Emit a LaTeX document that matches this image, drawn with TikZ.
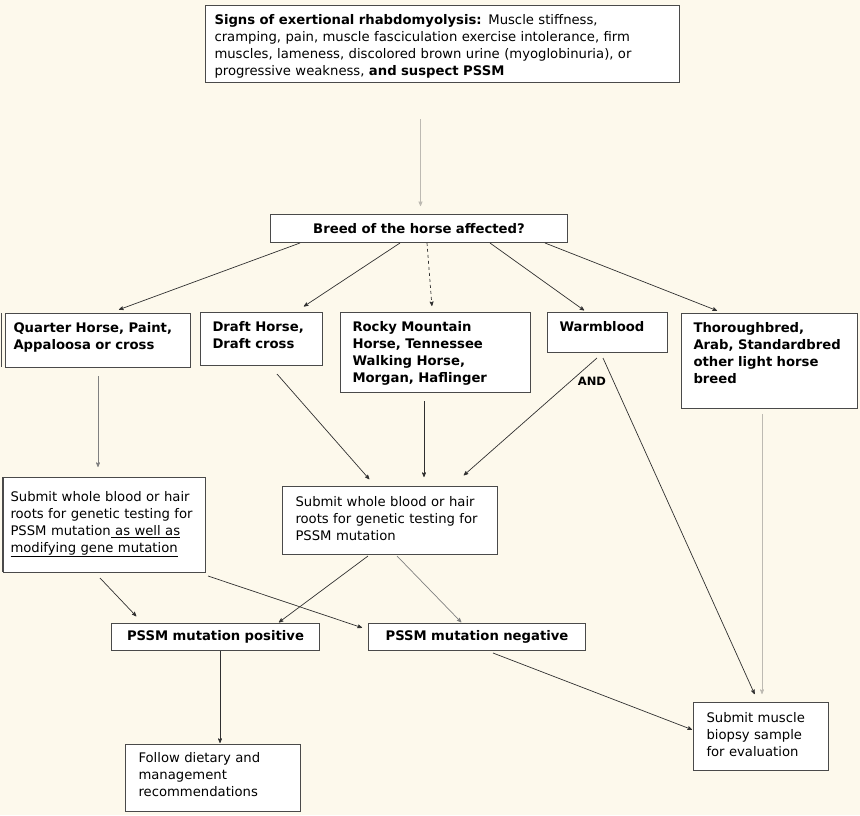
\documentclass[tikz,border=0pt]{standalone}
\usepackage{fontspec}
\setmainfont{DejaVu Sans}
\usepackage{tikz}
\usetikzlibrary{arrows}

\definecolor{paper}{HTML}{FDF9EC}
\definecolor{frame}{HTML}{4A4A4A}
\definecolor{wire}{HTML}{303030}
\definecolor{midwire}{HTML}{808080}
\definecolor{faint}{HTML}{BDBAB2}

\begin{document}
\begin{tikzpicture}[x=1pt,y=-1pt,->,>=stealth',shorten >=1pt,line width=0.7pt,
			main box/.style={draw=frame,fill=white,line width=1pt,anchor=north west,
				align=left,font=\fontsize{13.2}{17}\selectfont,
				inner xsep=12pt,inner ysep=5pt,text height=14pt},
			title box/.style={draw=frame,fill=white,line width=1pt,anchor=north west,
				align=center,font=\fontsize{13.2}{17}\selectfont\bfseries,inner sep=0pt}]
			
			\fill[paper] (0,0) rectangle (860,815);
			\path[use as bounding box] (0,0) rectangle (860,815);
			
			\node[main box,inner xsep=9pt,text width=456pt,text depth=53pt] (S) at (205,5)
				{\textbf{Signs of exertional rhabdomyolysis:} Muscle stiffness,\\
				cramping, pain, muscle fasciculation exercise intolerance, firm\\
				muscles, lameness, discolored brown urine (myoglobinuria), or\\
				progressive weakness, \textbf{and suspect PSSM}};
			\node[title box,text width=297pt,minimum height=28pt] (B) at (270,214) {Breed of the horse affected?};
			
			\node[main box,font=\fontsize{13.2}{17}\selectfont\bfseries,inner xsep=8pt,text width=169pt,text depth=30pt] (Q) at (5,313)
				{Quarter Horse, Paint,\\ Appaloosa or cross};
			\node[main box,font=\fontsize{13.2}{17}\selectfont\bfseries,text width=98pt,text depth=29pt] (D) at (200,312)
				{Draft Horse,\\ Draft cross};
			\node[main box,font=\fontsize{13.2}{17}\selectfont\bfseries,text width=166pt,text depth=56pt] (R) at (340,312)
				{Rocky Mountain\\ Horse, Tennessee\\ Walking Horse,\\ Morgan, Haflinger};
			\node[main box,font=\fontsize{13.2}{17}\selectfont\bfseries,text width=96pt,text depth=16pt] (W) at (547,312)
				{Warmblood};
			\node[main box,font=\fontsize{13.2}{17}\selectfont\bfseries,text width=152pt,text depth=71pt] (T) at (681,313)
				{Thoroughbred,\\ Arab, Standardbred\\ other light horse\\ breed};
			
			\node[main box,inner xsep=7pt,text width=188pt,text height=19pt,text depth=66pt] (G1) at (3,477)
				{Submit whole blood or hair\\ roots for genetic testing for\\
				PSSM mutation\underline{\ as well as}\\ \underline{modifying gene mutation}};
			\node[main box,inner xsep=13pt,text width=189pt,text height=15pt,text depth=43pt] (G2) at (282,486)
				{Submit whole blood or hair\\ roots for genetic testing for\\ PSSM mutation};
			
			\node[title box,text width=208pt,minimum height=27pt] (P) at (111,623) {PSSM mutation positive};
			\node[title box,text width=217pt,minimum height=27pt] (N) at (368,623) {PSSM mutation negative};
			
			\node[main box,inner xsep=13pt,text width=149pt,text height=13pt,text depth=44pt] (F) at (125,744)
				{Follow dietary and\\ management\\ recommendations};
			\node[main box,inner xsep=13pt,text width=109pt,text height=15pt,text depth=43pt] (M) at (693,702)
				{Submit muscle\\ biopsy sample\\ for evaluation};
			
			\node[font=\fontsize{11.5}{13}\selectfont\bfseries,inner sep=1pt] (and) at (592,381) {AND};
			
			\draw[-,frame,line width=1pt] ([xshift=-3.5pt]Q.north west) -- ([xshift=-3.5pt]Q.south west);
			\draw[-,frame,line width=2pt] ([xshift=-0.5pt]G1.north west) -- ([xshift=-0.5pt]G1.south west);
			
			\path[every edge/.append style={draw=wire}]
			([xshift=30pt]B.south west) edge ([xshift=113pt,yshift=3pt]Q.north west)
			([xshift=130pt]B.south west) edge ([xshift=103pt,yshift=5pt]D.north west)
			([xshift=157pt]B.south west) edge [dashed] ([xshift=92pt,yshift=5pt]R.north west)
			([xshift=220pt]B.south west) edge ([xshift=38pt,yshift=1pt]W.north west)
			([xshift=275pt]B.south west) edge ([xshift=37pt,yshift=2pt]T.north west)
			([xshift=77pt,yshift=-8pt]D.south west) edge ([xshift=88pt,yshift=6pt]G2.north west)
			([xshift=84pt,yshift=-8pt]R.south west) edge ([xshift=142pt,yshift=8pt]G2.north west)
			([xshift=50pt,yshift=-5pt]W.south west) edge ([xshift=181pt,yshift=10pt]G2.north west)
			([xshift=56pt,yshift=-5pt]W.south west) edge ([xshift=62pt,yshift=7pt]M.north west)
			([xshift=97pt,yshift=-5pt]G1.south west) edge ([xshift=26pt,yshift=6pt]P.north west)
			([xshift=2pt,yshift=-3pt]G1.south east) edge ([xshift=-5pt,yshift=-5pt]N.north west)
			([xshift=86pt,yshift=-1pt]G2.south west) edge ([xshift=167pt]P.north west)
			([xshift=109pt]P.south west) edge ([xshift=95pt]F.north west)
			([xshift=125pt,yshift=-2pt]N.south west) edge ([yshift=-28pt]M.north west);
			
			\path[every edge/.append style={draw=midwire}]
			([xshift=93pt,yshift=-8pt]Q.south west) edge ([xshift=95pt,yshift=9pt]G1.north west)
			([xshift=115pt,yshift=-1pt]G2.south west) edge ([xshift=94pt]N.north west);
			
			\path[every edge/.append style={draw=faint}]
			([xshift=-22pt,yshift=-36pt]S.south) edge ([xshift=1.5pt,yshift=7pt]B.north)
			([xshift=81pt,yshift=-5pt]T.south west) edge ([xshift=69pt,yshift=7pt]M.north west);
		\end{tikzpicture}
\end{document}
